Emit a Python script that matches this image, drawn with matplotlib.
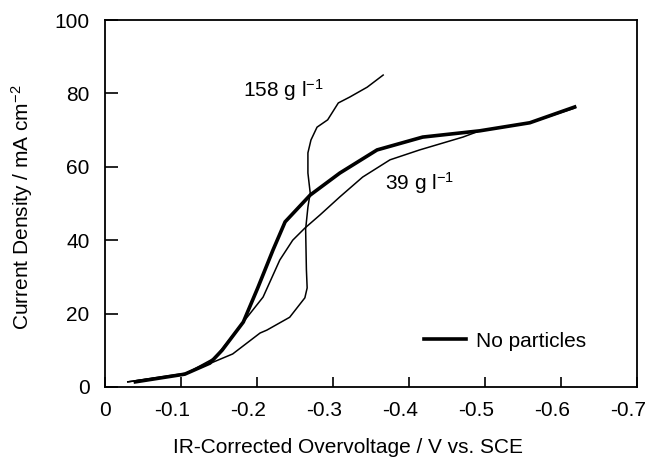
import matplotlib.pyplot as plt
import matplotlib.transforms as mtransforms

plt.rcParams['font.family'] = ['Liberation Sans', 'DejaVu Sans']
plt.rcParams['axes.unicode_minus'] = False
plt.rcParams['mathtext.fontset'] = 'custom'
plt.rcParams['mathtext.rm'] = 'Liberation Sans'
plt.rcParams['mathtext.it'] = 'Liberation Sans:italic'

# no particles (thick line)
v_none = [-0.040, -0.105, -0.138, -0.154, -0.182, -0.201, -0.221, -0.237,
          -0.270, -0.309, -0.358, -0.418, -0.493, -0.559, -0.618]
i_none = [1.4, 3.5, 6.5, 10.0, 17.7, 27.0, 37.3, 45.0,
          52.3, 58.3, 64.6, 68.1, 69.8, 72.0, 76.3]

# 39 g/l
v_39 = [-0.030, -0.105, -0.145, -0.182, -0.208, -0.230, -0.247, -0.263,
        -0.283, -0.309, -0.339, -0.375, -0.414, -0.471, -0.493, -0.559, -0.618]
i_39 = [1.4, 3.5, 8.0, 17.7, 24.5, 34.6, 40.0, 43.3,
        46.9, 51.8, 57.2, 61.9, 64.6, 68.1, 69.8, 72.0, 76.0]

# 158 g/l
v_158 = [-0.030, -0.108, -0.168, -0.204, -0.213, -0.243, -0.263, -0.266,
         -0.265, -0.264, -0.267, -0.270, -0.267, -0.267, -0.271, -0.279,
         -0.293, -0.307, -0.322, -0.345, -0.366]
i_158 = [1.4, 3.8, 9.0, 14.7, 15.5, 19.0, 24.3, 27.0,
         32.0, 43.0, 49.0, 52.9, 58.3, 63.8, 67.3, 70.8,
         72.8, 77.4, 79.0, 81.7, 85.0]

xticks = [0, -0.1, -0.2, -0.3, -0.4, -0.5, -0.6, -0.7]
xticklabels = ['0', '-0.1', '-0.2', '-0.3', '-0.4', '-0.5', '-0.6', '-0.7']
yticks = [0, 20, 40, 60, 80, 100]

fs = 15
fig = plt.figure(figsize=(6.47, 4.59), dpi=100)
ax = fig.add_axes([0.1623, 0.1569, 0.8222, 0.7995])

ax.plot(v_none, i_none, color='black', lw=2.6, solid_joinstyle='miter',
        label='No particles')
ax.plot(v_39, i_39, color='black', lw=1.1)
ax.plot(v_158, i_158, color='black', lw=1.1)

ax.set_xlim(0, -0.7)
ax.set_ylim(0, 100)
ax.set_xticks(xticks)
ax.set_xticklabels(xticklabels)
ax.set_yticks(yticks)
ax.tick_params(axis='x', direction='in', length=7, width=1.2, labelsize=fs, pad=10)
ax.tick_params(axis='y', direction='in', length=9, width=1.2, labelsize=fs, pad=11)
for s in ax.spines.values():
    s.set_linewidth(1.3)

# the negative labels sit a little left of their ticks in the original
shift = mtransforms.ScaledTranslation(-0.09, 0, fig.dpi_scale_trans)
for lbl in ax.get_xticklabels()[1:]:
    lbl.set_transform(lbl.get_transform() + shift)

ax.text(-0.182, 81, '158 g l$^{-1}$', fontsize=fs, va='center')
ax.text(-0.368, 55.6, '39 g l$^{-1}$', fontsize=fs, va='center')

ax.legend(loc='center right', bbox_to_anchor=(0.904, 0.125), frameon=False,
          fontsize=fs, handlelength=2.05, handletextpad=0.45,
          borderpad=0, borderaxespad=0)

ax.set_xlabel('IR-Corrected Overvoltage / V vs. SCE', fontsize=fs)
ax.set_ylabel('Current Density / mA cm$^{-2}$', fontsize=fs)
ax.xaxis.set_label_coords(0.457, -0.166)
ax.yaxis.set_label_coords(-0.156, 0.49)
ax.xaxis.label.set_va('center')
ax.yaxis.label.set_va('center')

fig.savefig('out.png', dpi=100)
